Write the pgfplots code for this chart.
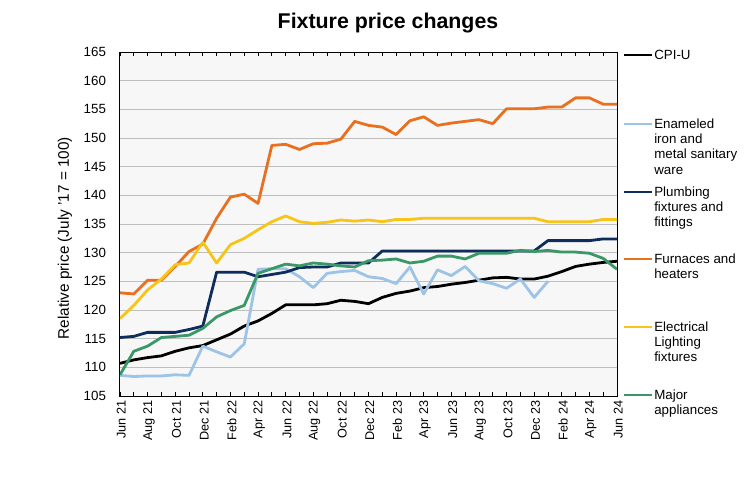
\documentclass[border=0pt]{standalone}
\usepackage{pgfplots}
\pgfplotsset{compat=1.18}
\usepackage{pgfplotstable}
\usepackage{fontspec}
\setmainfont{Liberation Sans}

\definecolor{cpi}{HTML}{000000}
\definecolor{enam}{HTML}{9DC3E6}
\definecolor{plumb}{HTML}{0F2D5C}
\definecolor{furn}{HTML}{E8701E}
\definecolor{elec}{HTML}{F7C417}
\definecolor{major}{HTML}{3A9767}
\definecolor{gridgray}{HTML}{BFBFBF}
\definecolor{bggray}{HTML}{F7F7F7}

% month index 0 = Jun 21 ... 36 = Jun 24
\pgfplotstableread{
m  cpi   enam  plumb furn  elec  major
0  110.7 108.6 115.2 123.0 118.5 108.7
1  111.3 108.4 115.4 122.8 120.8 112.8
2  111.7 108.5 116.1 125.2 123.5 113.7
3  112.0 108.5 116.1 125.2 125.4 115.2
4  112.8 108.7 116.1 127.6 127.9 115.4
5  113.4 108.6 116.6 130.2 128.2 115.6
6  113.8 113.7 117.2 131.5 131.8 116.8
7  114.8 112.7 126.6 136.0 128.2 118.8
8  115.8 111.8 126.6 139.7 131.4 119.9
9  117.2 114.1 126.6 140.2 132.5 120.8
10 118.1 127.1 125.8 138.6 134.0 126.4
11 119.4 127.2 126.2 148.7 135.4 127.2
12 120.9 127.2 126.6 148.9 136.4 128.0
13 120.9 125.8 127.4 148.0 135.4 127.7
14 120.9 123.9 127.5 149.0 135.1 128.2
15 121.1 126.4 127.5 149.1 135.3 128.0
16 121.7 126.7 128.2 149.8 135.7 127.7
17 121.5 126.9 128.2 152.9 135.5 127.5
18 121.1 125.8 128.2 152.2 135.7 128.6
19 122.2 125.5 130.3 151.9 135.4 128.7
20 122.9 124.6 130.3 150.6 135.8 128.9
21 123.3 127.5 130.3 153.0 135.8 128.2
22 123.9 122.8 130.3 153.7 136.0 128.5
23 124.1 127.0 130.3 152.2 136.0 129.4
24 124.5 126.0 130.3 152.6 136.0 129.4
25 124.8 127.6 130.3 152.9 136.0 128.9
26 125.2 125.1 130.3 153.2 136.0 129.9
27 125.6 124.6 130.3 152.5 136.0 129.9
28 125.7 123.8 130.3 155.1 136.0 129.9
29 125.4 125.4 130.3 155.1 136.0 130.4
30 125.4 122.2 130.3 155.1 136.0 130.2
31 125.9 125.0 132.1 155.4 135.4 130.4
32 126.7 nan   132.1 155.4 135.4 130.1
33 127.6 nan   132.1 157.0 135.4 130.1
34 128.0 nan   132.1 157.0 135.4 129.9
35 128.3 nan   132.4 155.9 135.8 129.0
36 128.5 nan   132.4 155.9 135.8 127.1
}\prices

% legend entry: colour, y in axis units, text
\newcommand{\legentry}[3]{%
  \draw[#1, line width=2pt] (axis cs:36.52,#2) -- (axis cs:38.55,#2);
  \node[anchor=base west, inner sep=0pt, yshift=-3.6pt] at (axis cs:38.68,#2)
    {\parbox[t]{68pt}{\raggedright\fontsize{10}{11.3}\selectfont #3}};
}

\begin{document}
\begin{tikzpicture}
\begin{axis}[
    scale only axis,
    width=372.75pt, height=258pt,
    xmin=0, xmax=36, ymin=105, ymax=165,
    ytick={105,110,...,165},
    xtick={0,2,...,36},
    xticklabels={Jun 21,Aug 21,Oct 21,Dec 21,Feb 22,Apr 22,Jun 22,Aug 22,Oct 22,Dec 22,Feb 23,Apr 23,Jun 23,Aug 23,Oct 23,Dec 23,Feb 24,Apr 24,Jun 24},
    minor xtick={1,3,...,35},
    tick align=inside,
    major tick length=3pt, minor tick length=3pt,
    xtick style={black, line width=0.6pt},
    ytick style={draw=none},
    xticklabel style={rotate=90, anchor=east, yshift=-1pt, font=\fontsize{9.5}{11}\selectfont},
    yticklabel style={xshift=-7pt, font=\fontsize{10}{12}\selectfont},
    ymajorgrids,
    grid style={gridgray, line width=0.6pt},
    axis background/.style={fill=bggray},
    axis line style={line width=0.75pt},
    ylabel={Relative price (July '17 = 100)},
    ylabel style={at={(axis description cs:-0.1107,0.459)}, anchor=center,
                  font=\fontsize{11.5}{13}\selectfont},
    /pgf/number format/assume math mode=true,
    unbounded coords=jump,
    clip mode=individual,
    every axis plot/.append style={line width=2.1pt, line join=round, no markers},
]
\addplot[cpi]   table[x=m, y=cpi]   {\prices};
\addplot[enam]  table[x=m, y=enam]  {\prices};
\addplot[plumb] table[x=m, y=plumb] {\prices};
\addplot[furn]  table[x=m, y=furn]  {\prices};
\addplot[elec]  table[x=m, y=elec]  {\prices};
\addplot[major] table[x=m, y=major] {\prices};

\legentry{cpi}{164.48}{CPI-U}
\legentry{enam}{152.44}{Enameled\\iron and\\metal sanitary\\ware}
\legentry{plumb}{140.58}{Plumbing\\fixtures and\\fittings}
\legentry{furn}{128.9}{Furnaces and\\heaters}
\legentry{elec}{117.03}{Electrical\\Lighting\\fixtures}
\legentry{major}{105.17}{Major\\appliances}
\end{axis}
\node[font=\fontsize{16}{19}\bfseries] at (201pt,279.75pt) {Fixture price changes};
\pgfresetboundingbox
\path (-90pt,-62.25pt) rectangle (471pt,297pt);
\end{tikzpicture}
\end{document}
